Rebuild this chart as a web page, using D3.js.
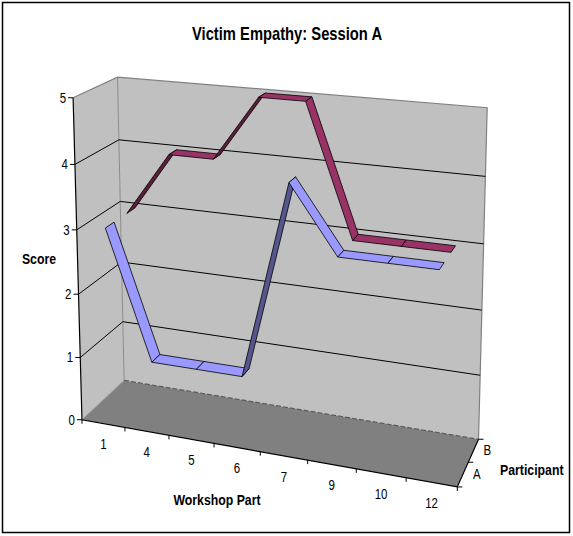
<!DOCTYPE html>
<html>
<head>
<meta charset="utf-8">
<script src="https://cdn.jsdelivr.net/npm/d3@7"></script>
<style>
  html, body { margin: 0; padding: 0; background: #fff; }
  svg { display: block; }
  text { font-family: 'Liberation Sans', Arial, sans-serif; fill: #000; }
</style>
</head>
<body>
<svg id="chart" width="573" height="536"></svg>
<script>
// ---- data ----
const workshopParts = ["1", "4", "5", "6", "7", "9", "10", "12"];
const participants = ["A", "B"];
const scoresA = [3, 1, 1, 1, 4, 3, 3, 3];
const scoresB = [3, 4, 4, 5, 5, 3, 3, 3];
const scoreTicks = [0, 1, 2, 3, 4, 5];

const series = [
  { name: "A", values: scoresA, top: "#9999FF", under: "#56568F" },
  { name: "B", values: scoresB, top: "#993366", under: "#5A1E3C" }
];

// ---- scales (world units: x, y, z each in 0..1) ----
const xScale = d3.scaleBand().domain(workshopParts).range([0, 1]).padding(0);
const yScale = d3.scaleLinear().domain([0, 5]).range([0, 1]);
const zScale = d3.scaleBand().domain(participants).range([0, 1]).padding(0);
const ribbonShare = 0.4; // ribbon depth relative to its row (gap depth 150%)

// ---- perspective camera, fitted to the plot box anchors (DLT) ----
const boxAnchors = [
  [[0, 0, 0], [82, 420]], [[0, 1, 0], [73, 98]], [[1, 0, 0], [457, 487]],
  [[0, 0, 1], [123, 380]], [[0, 1, 1], [117, 77]], [[1, 0, 1], [480, 437]], [[1, 1, 1], [488, 108]],
  [[0, 0.2, 0], [80, 357]], [[0, 0.4, 0], [78, 293]], [[0, 0.6, 0], [77, 229]], [[0, 0.8, 0], [76, 164]],
  [[1, 0.2, 1], [480, 375]], [[1, 0.4, 1], [482, 311]], [[1, 0.6, 1], [483, 244]], [[1, 0.8, 1], [485, 176]],
  [[0, 0.2, 1], [123, 322]], [[0, 0.4, 1], [123, 263]], [[0, 0.6, 1], [120, 202]], [[0, 0.8, 1], [118, 140]],
  [[0.125, 0, 0], [125, 428]], [[0.25, 0, 0], [170, 436]], [[0.375, 0, 0], [215, 443]],
  [[0.5, 0, 0], [260, 451]], [[0.625, 0, 0], [307, 460]], [[0.75, 0, 0], [355, 470]], [[0.875, 0, 0], [406, 479]]
];

function fitCamera(pairs) {
  const rows = [], rhs = [];
  for (const [[X, Y, Z], [u, v]] of pairs) {
    rows.push([X, Y, Z, 1, 0, 0, 0, 0, -u * X, -u * Y, -u * Z]); rhs.push(u);
    rows.push([0, 0, 0, 0, X, Y, Z, 1, -v * X, -v * Y, -v * Z]); rhs.push(v);
  }
  const n = 11;
  const M = Array.from({ length: n }, () => new Array(n + 1).fill(0));
  rows.forEach((r, k) => {
    for (let i = 0; i < n; i++) {
      for (let j = 0; j < n; j++) M[i][j] += r[i] * r[j];
      M[i][n] += r[i] * rhs[k];
    }
  });
  for (let c = 0; c < n; c++) {
    let p = c;
    for (let r = c + 1; r < n; r++) if (Math.abs(M[r][c]) > Math.abs(M[p][c])) p = r;
    [M[c], M[p]] = [M[p], M[c]];
    for (let r = 0; r < n; r++) {
      if (r === c) continue;
      const f = M[r][c] / M[c][c];
      for (let k = c; k <= n; k++) M[r][k] -= f * M[c][k];
    }
  }
  const m = M.map((row, i) => row[n] / row[i]);
  return (X, Y, Z) => {
    const w = m[8] * X + m[9] * Y + m[10] * Z + 1;
    return [(m[0] * X + m[1] * Y + m[2] * Z + m[3]) / w,
            (m[4] * X + m[5] * Y + m[6] * Z + m[7]) / w];
  };
}
const P = fitCamera(boxAnchors);

const svg = d3.select("#chart");
const line = d3.line();
const poly = pts => "M" + pts.map(p => p.join(",")).join("L") + "Z";

// condensed label: text squeezed horizontally around its anchor point
const narrow = 0.82;
function label(parent, x, y, str, o = {}) {
  return parent.append("text")
    .attr("transform", `translate(${x},${y}) scale(${narrow},1)`)
    .attr("dy", o.dy || null)
    .attr("text-anchor", o.anchor || "start")
    .attr("font-size", o.size || 14)
    .attr("font-weight", o.bold ? "bold" : null)
    .text(str);
}

// chart border
svg.append("rect")
  .attr("x", 2.5).attr("y", 2.5).attr("width", 567).attr("height", 530)
  .attr("fill", "#fff").attr("stroke", "#000").attr("stroke-width", 1.5);

// title
label(svg, 287, 40, "Victim Empathy: Session A", { anchor: "middle", size: 18, bold: true });

// walls and floor
const g = svg.append("g");
g.append("path").attr("d", poly([P(0, 0, 0), P(0, 1, 0), P(0, 1, 1), P(0, 0, 1)]))
  .attr("fill", "#C0C0C0");
g.append("path").attr("d", poly([P(0, 0, 1), P(0, 1, 1), P(1, 1, 1), P(1, 0, 1)]))
  .attr("fill", "#C0C0C0");
g.append("path").attr("d", poly([P(0, 0, 0), P(1, 0, 0), P(1, 0, 1), P(0, 0, 1)]))
  .attr("fill", "#808080");

// wall edges
g.append("path").attr("d", line([P(0, 1, 0), P(0, 1, 1), P(1, 1, 1), P(1, 0, 1)]))
  .attr("fill", "none").attr("stroke", "#808080").attr("stroke-width", 1.2);
g.append("path").attr("d", line([P(0, 0, 1), P(0, 1, 1)]))
  .attr("fill", "none").attr("stroke", "#8c8c8c").attr("stroke-width", 1);
g.append("path").attr("d", line([P(0, 0, 0), P(0, 0, 1)]))
  .attr("fill", "none").attr("stroke", "#9a9a9a").attr("stroke-width", 1);
g.append("path").attr("d", line([P(0, 0, 1), P(1, 0, 1)]))
  .attr("fill", "none").attr("stroke", "#5a5a5a").attr("stroke-width", 1.2)
  .attr("stroke-dasharray", "5,2");

// gridlines on side and back walls
scoreTicks.filter(v => v > 0 && v < 5).forEach(v => {
  const y = yScale(v);
  g.append("path").attr("d", line([P(0, y, 0), P(0, y, 1), P(1, y, 1)]))
    .attr("fill", "none").attr("stroke", "#000").attr("stroke-width", 1);
});

// axis lines
g.append("path").attr("d", line([P(0, 1, 0), P(0, 0, 0), P(1, 0, 0), P(1, 0, 1)]))
  .attr("fill", "none").attr("stroke", "#000").attr("stroke-width", 1.2);

// value axis ticks and labels
scoreTicks.forEach(v => {
  const [px, py] = P(0, yScale(v), 0);
  g.append("line").attr("x1", px - 5).attr("y1", py).attr("x2", px).attr("y2", py)
    .attr("stroke", "#000");
  label(g, px - 7, py, v, { anchor: "end", dy: "0.35em" });
});

// category axis ticks and labels
d3.range(workshopParts.length + 1).forEach(i => {
  const x = i / workshopParts.length;
  const [px, py] = P(x, 0, 0);
  g.append("line").attr("x1", px).attr("y1", py).attr("x2", px).attr("y2", py + 4)
    .attr("stroke", "#000");
});
workshopParts.forEach(c => {
  const [px, py] = P(xScale(c) + xScale.bandwidth() / 2, 0, 0);
  label(g, px, py + 21, c, { anchor: "middle", dy: "0.35em" });
});

// depth (series) axis ticks and labels
[0, 0.5, 1].forEach(z => {
  const [px, py] = P(1, 0, z);
  g.append("line").attr("x1", px).attr("y1", py).attr("x2", px + 5).attr("y2", py)
    .attr("stroke", "#000");
});
participants.forEach(s => {
  const [px, py] = P(1, 0, zScale(s) + zScale.bandwidth() / 2);
  label(g, px + 10, py, s, { dy: "0.35em" });
});

// axis titles
label(g, 39, 264, "Score", { anchor: "middle", size: 15, bold: true });
label(g, 217, 505, "Workshop Part", { anchor: "middle", size: 15, bold: true });
label(g, 500, 475, "Participant", { size: 15, bold: true });

// ribbons: back series first so the front one overlaps it
const ribbons = svg.append("g");
series.slice().reverse().forEach(s => {
  const zc = zScale(s.name) + zScale.bandwidth() / 2;
  const half = zScale.bandwidth() * ribbonShare / 2;
  const z0 = zc - half, z1 = zc + half;
  const xs = workshopParts.map(c => xScale(c) + xScale.bandwidth() / 2);
  for (let i = 0; i < s.values.length - 1; i++) {
    const ya = yScale(s.values[i]), yb = yScale(s.values[i + 1]);
    const quad = [P(xs[i], ya, z0), P(xs[i + 1], yb, z0), P(xs[i + 1], yb, z1), P(xs[i], ya, z1)];
    ribbons.append("path").attr("d", poly(quad))
      .attr("fill", yb > ya ? s.under : s.top)
      .attr("stroke", "#000").attr("stroke-width", 0.8).attr("stroke-linejoin", "round");
  }
});
</script>
</body>
</html>
